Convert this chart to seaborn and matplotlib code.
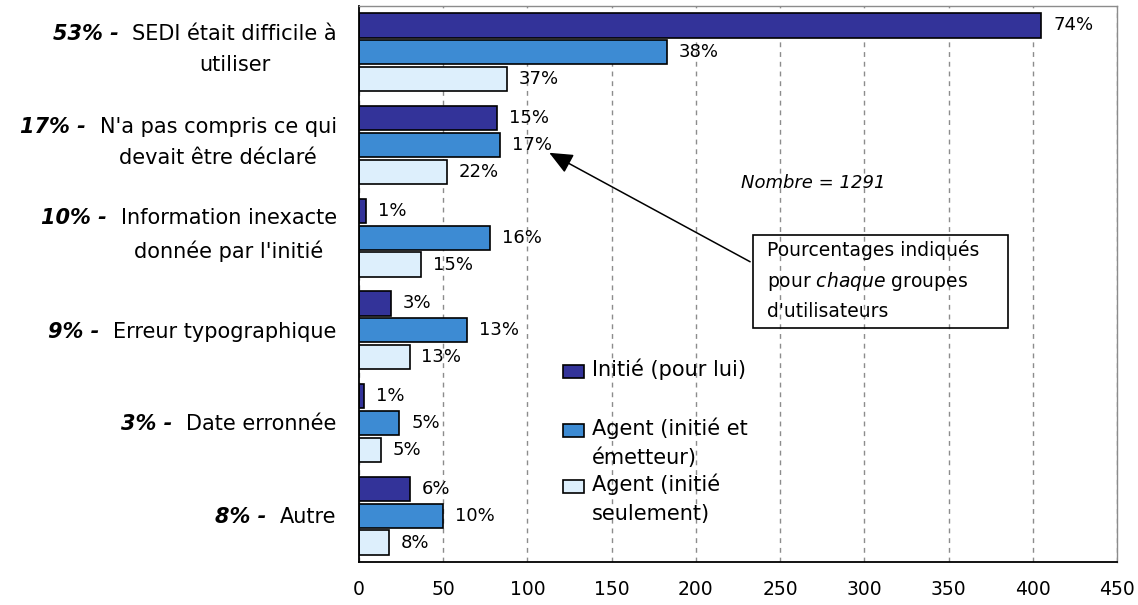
import numpy as np
import pandas as pd
import matplotlib
matplotlib.use("Agg")
import matplotlib.pyplot as plt
from matplotlib.patches import Rectangle
import seaborn as sns

# Reasons for incorrect SEDI filings, counted per user group
categories = [
    "SEDI était difficile à\nutiliser",
    "N'a pas compris ce qui\ndevait être déclaré",
    "Information inexacte\ndonnée par l'initié",
    "Erreur typographique",
    "Date erronnée",
    "Autre",
]
category_shares = ["53% -", "17% -", "10% -", "9% -", "3% -", "8% -"]

groups = ["Initié (pour lui)", "Agent (initié et\németteur)", "Agent (initié\nseulement)"]
initie = [405, 82, 4, 19, 3, 30]
agent_emetteur = [183, 84, 78, 64, 24, 50]
agent_seulement = [88, 52, 37, 30, 13, 18]

initie_pct = ["74%", "15%", "1%", "3%", "1%", "6%"]
agent_emetteur_pct = ["38%", "17%", "16%", "13%", "5%", "10%"]
agent_seulement_pct = ["37%", "22%", "15%", "13%", "5%", "8%"]

x_ticks = [0, 50, 100, 150, 200, 250, 300, 350, 400, 450]
total_label = "Nombre = 1291"
note_text = "Pourcentages indiqués\npour $\\mathit{chaque}$ groupes\nd'utilisateurs"

colors = ["#333399", "#3D8BD3", "#DDEFFC"]
ink = "black"

sns.set_theme(style="white")
plt.rcParams["font.family"] = ["DejaVu Sans"]
plt.rcParams["mathtext.fontset"] = "dejavusans"

df = pd.DataFrame({
    "Motif": categories * 3,
    "Groupe": [g for g in groups for _ in categories],
    "Nombre": initie + agent_emetteur + agent_seulement,
})
pct_labels = [initie_pct, agent_emetteur_pct, agent_seulement_pct]

fig = plt.figure(figsize=(11.38, 6.05), dpi=100)
ax = fig.add_axes([359 / 1138, 1 - 562 / 605, 758 / 1138, 556 / 605])

sns.barplot(
    data=df, y="Motif", x="Nombre", hue="Groupe",
    order=categories, hue_order=groups,
    palette=dict(zip(groups, colors)), saturation=1,
    orient="h", width=0.87, gap=0.1,
    edgecolor="black", linewidth=1.2, legend=False, ax=ax,
)

# value labels at the end of each bar
for container, labels in zip(ax.containers, pct_labels):
    ax.bar_label(container, labels=labels, padding=8.5, fontsize=13, color=ink)

# axes, grid and frame
ax.set_xlim(x_ticks[0], x_ticks[-1])
ax.set_ylim(len(categories) - 0.5, -0.5)
ax.set_xticks(x_ticks)
ax.set_xticklabels([str(v) for v in x_ticks], fontsize=13.5)
ax.set_yticks(np.arange(-0.5, len(categories), 1.0))
ax.set_yticklabels([])
ax.set_xlabel("")
ax.set_ylabel("")
ax.tick_params(axis="x", direction="out", length=5, width=1.2, pad=8,
               color="black", labelcolor=ink)
ax.tick_params(axis="y", direction="out", length=8, width=1.2, color="black")
ax.xaxis.grid(True, color="#8c8c8c", linestyle=(0, (3.5, 3.5)), linewidth=1)
ax.set_axisbelow(True)
for side in ("left", "bottom"):
    ax.spines[side].set_color("black")
    ax.spines[side].set_linewidth(1.3)
for side in ("top", "right"):
    ax.spines[side].set_visible(True)
    ax.spines[side].set_color("#8c8c8c")
    ax.spines[side].set_linewidth(1)

# category names, right-aligned next to the axis
cat_texts = []
for i, cat in enumerate(categories):
    lift = 2 if "\n" in cat else -1
    t = ax.annotate(
        cat, xy=(0, i), xycoords=("axes fraction", "data"),
        xytext=(-16, lift), textcoords="offset points",
        ha="right", va="center", multialignment="center",
        fontsize=15, linespacing=1.7, color=ink,
    )
    cat_texts.append(t)

fig.canvas.draw()
renderer = fig.canvas.get_renderer()
for t, share in zip(cat_texts, category_shares):
    bb = t.get_window_extent(renderer)
    ax.annotate(
        share, xy=(bb.x0, bb.y1), xycoords="figure pixels",
        xytext=(-10, 0), textcoords="offset points",
        ha="right", va="top", fontsize=15,
        fontweight="bold", fontstyle="italic", color=ink,
    )

# legend: colour keys with the first text line beside each key
key_w, key_h = 21 / 758, 13 / 556
key_y = [0.342, 0.237, 0.135]
for color, label, yc in zip(colors, groups, key_y):
    ax.add_patch(Rectangle((0.269, yc - key_h / 2), key_w, key_h,
                           transform=ax.transAxes, facecolor=color,
                           edgecolor="black", linewidth=1.2, clip_on=False))
    ax.annotate(label, xy=(0.307, yc), xycoords="axes fraction",
                xytext=(0, 9.5), textcoords="offset points",
                ha="left", va="top", fontsize=15, linespacing=1.55,
                color=ink)

# sample size
ax.text(0.504, 0.682, total_label, transform=ax.transAxes,
        fontsize=13, fontstyle="italic", va="center", ha="left", color=ink)

# explanatory note with its arrow
ax.add_patch(Rectangle((0.520, 0.421), 0.336, 0.167, transform=ax.transAxes,
                       facecolor="none", edgecolor="black", linewidth=1.2))
ax.text(0.538, 0.507, note_text, transform=ax.transAxes, fontsize=13.5,
        linespacing=1.6, va="center", ha="left", color=ink)
ax.annotate("", xy=(0.251, 0.736), xycoords="axes fraction",
            xytext=(0.516, 0.540), textcoords="axes fraction",
            arrowprops=dict(arrowstyle="-|>,head_length=0.8,head_width=0.35",
                            color="black", lw=1.1, mutation_scale=18,
                            shrinkA=0, shrinkB=0))

fig.savefig("out.png", dpi=100)
